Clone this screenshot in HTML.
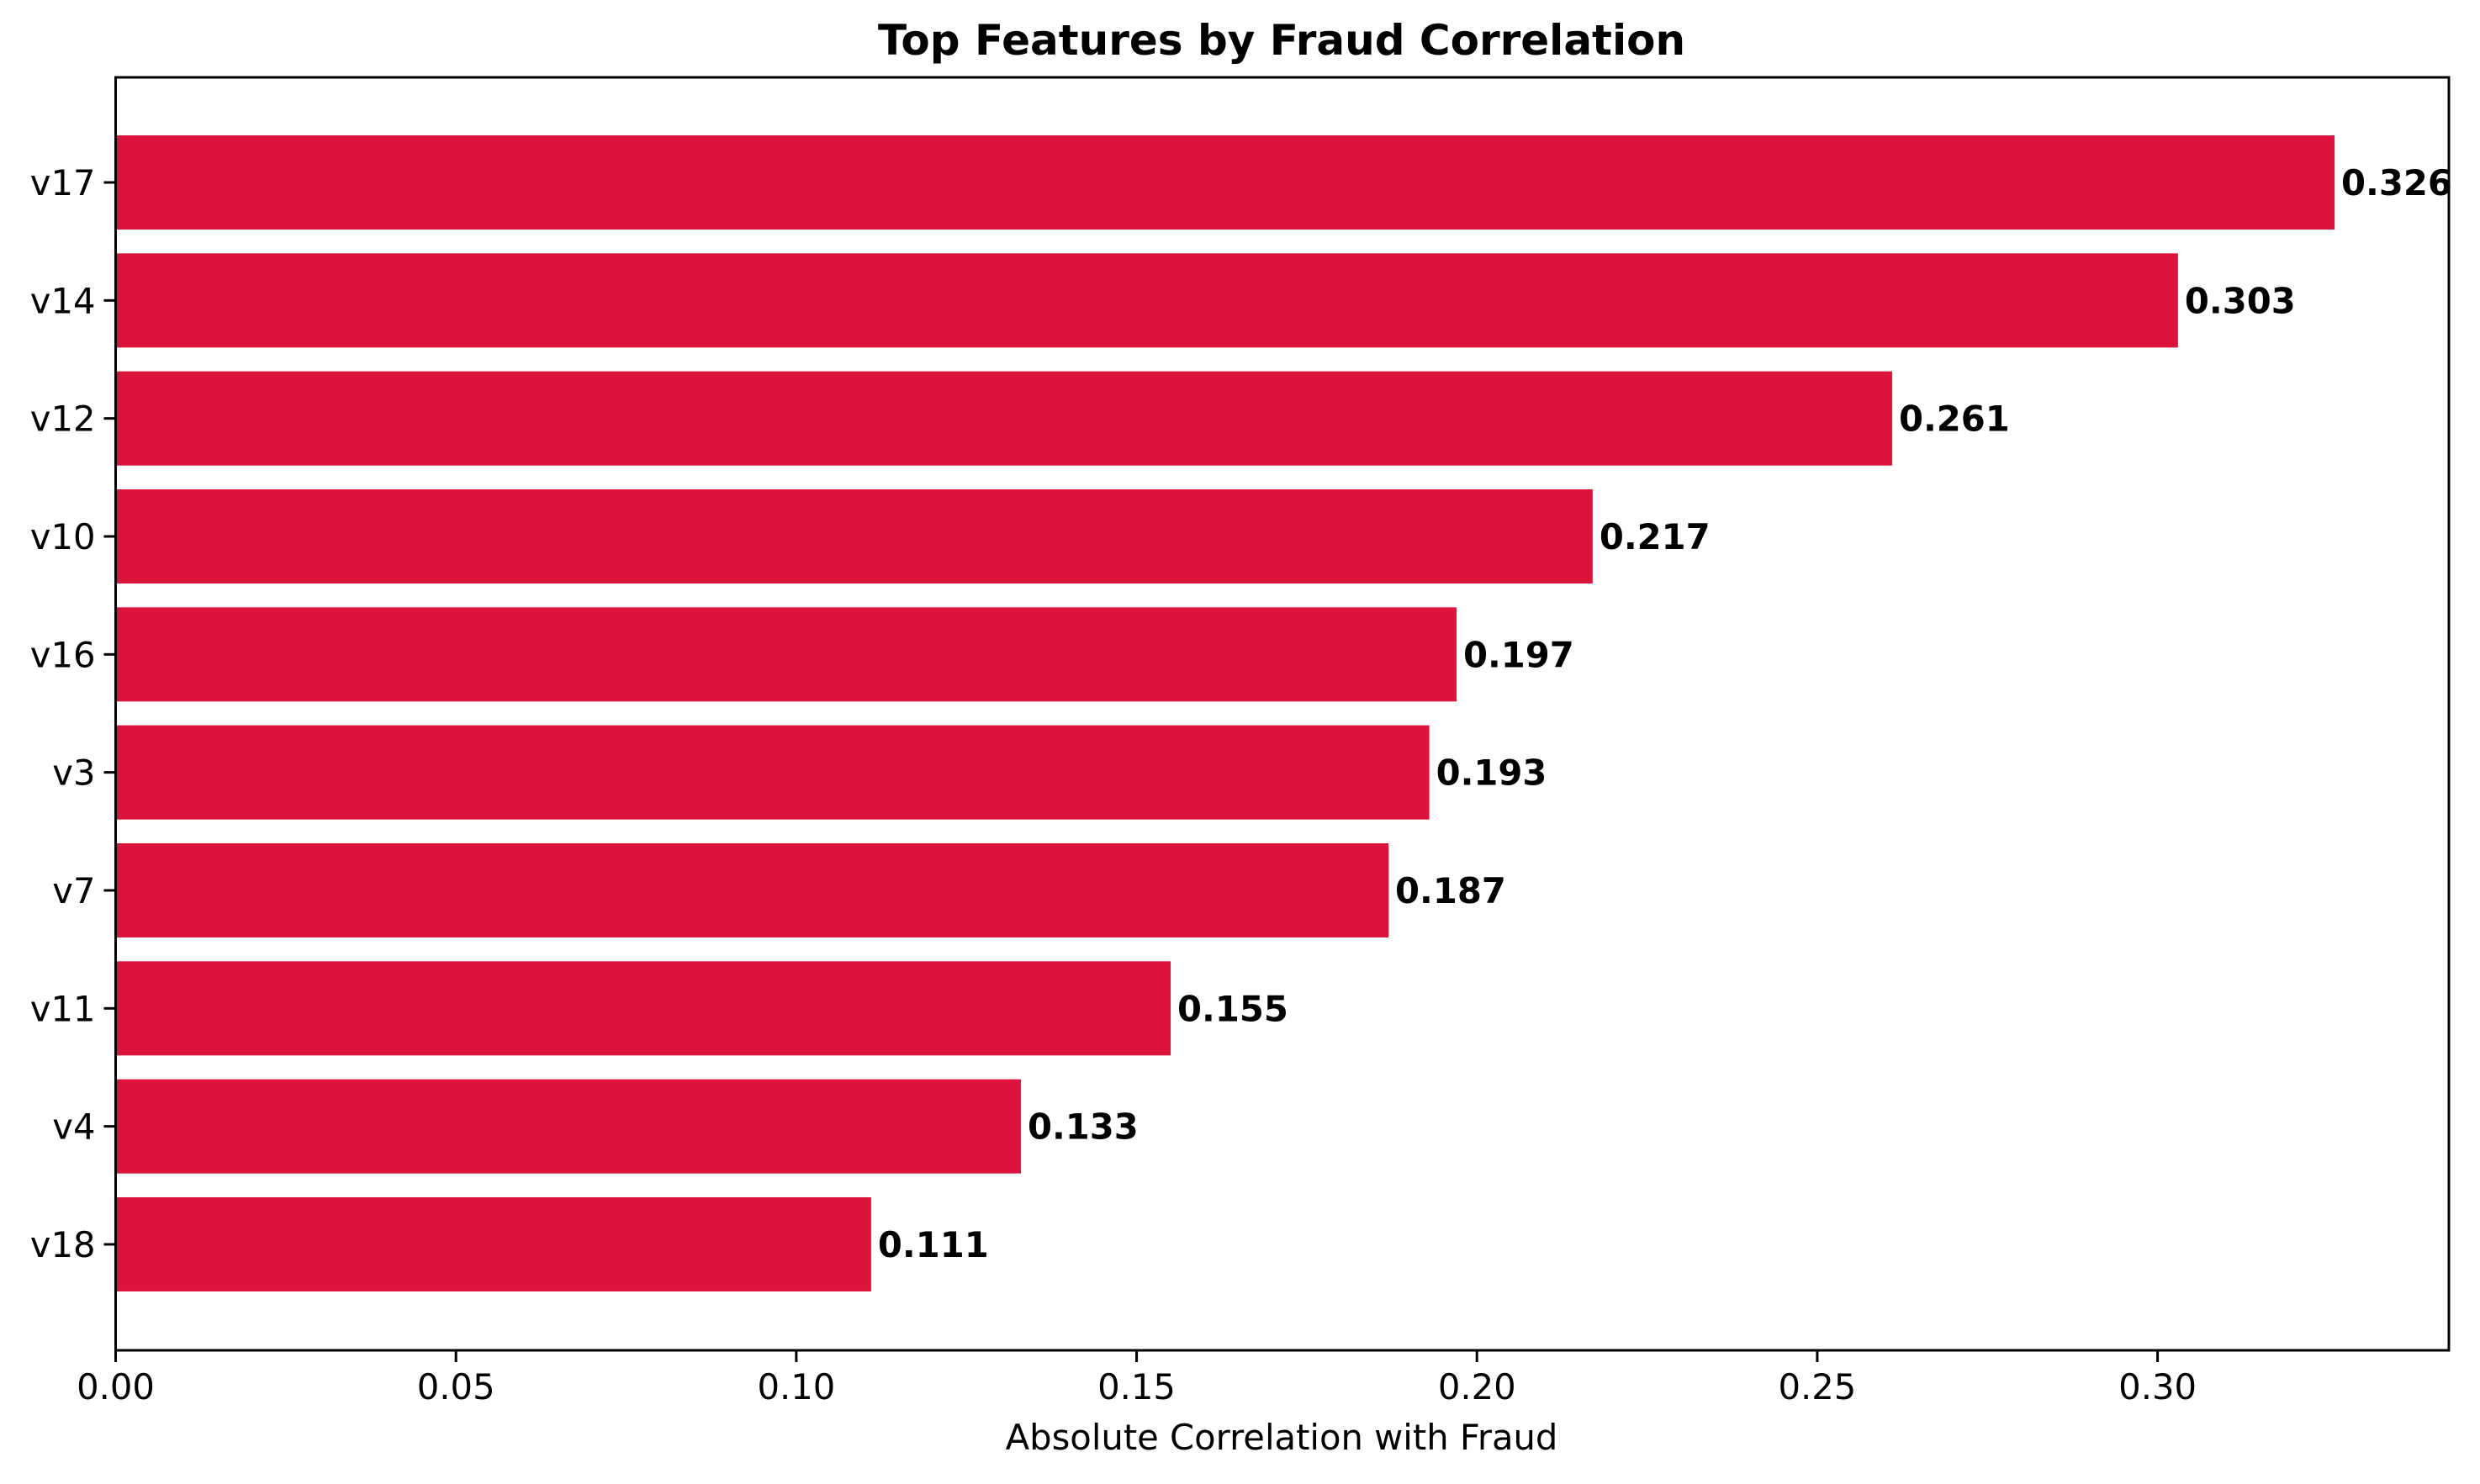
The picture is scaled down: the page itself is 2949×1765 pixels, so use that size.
<!DOCTYPE html>
<html><head><meta charset="utf-8"><style>
html,body{margin:0;padding:0;background:#fff;}
svg{display:block;font-family:"DejaVu Sans","Liberation Sans",sans-serif;}
</style></head><body>
<svg id="chart" width="2949" height="1765" viewBox="0 0 2949 1765" xmlns="http://www.w3.org/2000/svg">
<text x="1524" y="65" text-anchor="middle" font-size="50" font-weight="bold">Top Features by Fraud Correlation</text>
<g id="bars"></g>
<g id="axes"></g>
<text x="1524" y="1724" text-anchor="middle" font-size="41.7">Absolute Correlation with Fraud</text>
</svg>
<script>
const categories = ["v17","v14","v12","v10","v16","v3","v7","v11","v4","v18"];
const values = [0.326,0.303,0.261,0.217,0.197,0.193,0.187,0.155,0.133,0.111];
const valueLabels = ["0.326","0.303","0.261","0.217","0.197","0.193","0.187","0.155","0.133","0.111"];
const xTicks = [0,0.05,0.10,0.15,0.20,0.25,0.30];
const xTickLabels = ["0.00","0.05","0.10","0.15","0.20","0.25","0.30"];

const NS="http://www.w3.org/2000/svg";
const L=137.5,R=2912,T=92,B=1606,XMAX=0.3428;
const firstCenter=217, step=140.33, barH=112;
const FS=41.7;
const xs=v=>L+v/XMAX*(R-L);
const ys=i=>firstCenter+i*step;
function mk(tag,attrs,parent){const e=document.createElementNS(NS,tag);for(const k in attrs)e.setAttribute(k,attrs[k]);parent.appendChild(e);return e;}
const gb=document.getElementById('bars'), ga=document.getElementById('axes');
categories.forEach((c,i)=>{
  const r=mk('rect',{x:L,y:ys(i)-barH/2,width:xs(values[i])-L,height:barH,fill:'#dc143c'},gb);
  
  
  const t=mk('text',{x:xs(values[i])+8,y:ys(i)+15,'font-size':FS,'font-weight':'bold'},gb);
  t.textContent=valueLabels[i];
  
  
  const tk=mk('line',{x1:L-14,x2:L,y1:ys(i),y2:ys(i),stroke:'#000','stroke-width':3},ga);
  
  
  const yl=mk('text',{x:L-24,y:ys(i)+15,'text-anchor':'end','font-size':FS},ga);
  yl.textContent=c;
  
  
});
xTicks.forEach((v,i)=>{
  const tk=mk('line',{x1:xs(v),x2:xs(v),y1:B,y2:B+14,stroke:'#000','stroke-width':3},ga);
  
  
  const tl=mk('text',{x:xs(v),y:B+58,'text-anchor':'middle','font-size':FS},ga);
  tl.textContent=xTickLabels[i];
  
  
});
const frame=mk('rect',{x:L,y:T,width:R-L,height:B-T,fill:'none',stroke:'#000','stroke-width':3},ga);


</script>
</body></html>
